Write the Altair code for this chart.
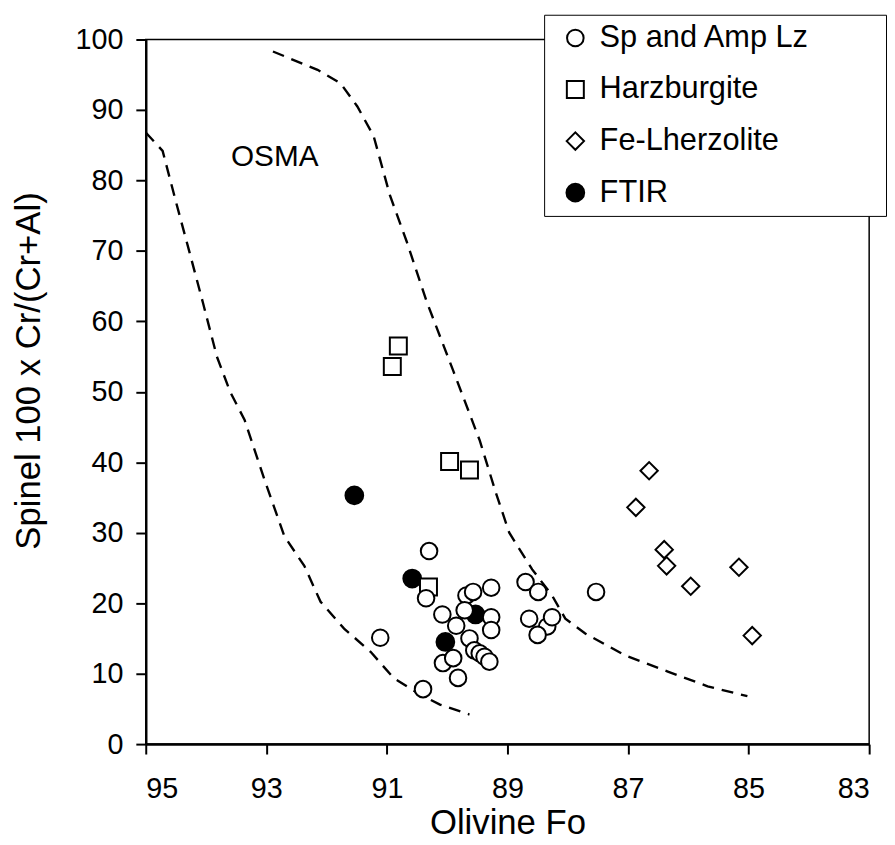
import altair as alt
import pandas as pd

# ---------------- data ----------------
series_order = ["Sp and Amp Lz", "Harzburgite", "Fe-Lherzolite", "FTIR"]

sp_x = [90.30, 90.35, 91.11, 90.40, 89.82, 90.07, 90.08, 89.68, 89.57, 89.27,
        89.71, 89.85, 89.27, 89.27, 89.63, 89.55, 89.46, 89.38, 89.30, 89.90,
        88.70, 88.49, 87.53, 88.64, 88.34, 88.26, 88.50]
sp_y = [27.4, 20.7, 15.1, 7.8, 9.4, 11.5, 18.4, 21.1, 21.6, 22.2,
        19.0, 16.8, 18.0, 16.2, 15.0, 13.3, 12.9, 12.4, 11.7, 12.2,
        23.0, 21.6, 21.6, 17.8, 16.7, 18.0, 15.5]

hz_x = [90.81, 90.91, 89.96, 89.63, 90.31]
hz_y = [56.5, 53.6, 40.1, 38.9, 22.3]

fe_x = [86.65, 86.87, 86.40, 86.36, 85.96, 85.16, 84.94]
fe_y = [38.8, 33.6, 27.6, 25.3, 22.4, 25.1, 15.4]

ft_x = [91.54, 90.58, 89.53, 90.03]
ft_y = [35.3, 23.5, 18.4, 14.5]

left_x = [95.0, 94.72, 94.50, 94.28, 94.05, 93.82, 93.60, 93.36, 93.03, 92.70,
          92.37, 92.10, 91.71, 91.27, 90.89, 90.50, 90.12, 89.63]
left_y = [86.8, 84.2, 77.0, 70.0, 62.6, 55.0, 50.0, 46.0, 37.5, 29.5,
          25.3, 20.2, 16.4, 13.1, 9.4, 7.3, 5.6, 4.2]

right_x = [92.89, 92.15, 91.77, 91.49, 91.22, 90.95, 90.67, 90.34, 89.90, 89.46,
           89.19, 88.97, 88.59, 88.26, 88.04, 87.71, 87.05, 86.34, 85.68, 85.02]
right_y = [98.3, 95.7, 93.8, 90.5, 86.3, 77.9, 71.3, 62.8, 53.0, 43.1,
           35.6, 30.0, 24.8, 21.1, 17.8, 15.7, 12.6, 10.3, 8.2, 6.8]

osma_x = [92.86]
osma_y = [83.3]
osma_text = ["OSMA"]

x_ticks = [95, 93, 91, 89, 87, 85, 83]
y_ticks = [0, 10, 20, 30, 40, 50, 60, 70, 80, 90, 100]

# ---------------- tables ----------------
def frame(xs, ys, name):
    return pd.DataFrame({"x": xs, "y": ys, "series": name})

# drawing order: FTIR underneath, then squares, circles, diamonds
pts = pd.concat([
    frame(ft_x, ft_y, "FTIR"),
    frame(hz_x, hz_y, "Harzburgite"),
    frame(sp_x, sp_y, "Sp and Amp Lz"),
    frame(fe_x, fe_y, "Fe-Lherzolite"),
], ignore_index=True)

curves = pd.concat([
    pd.DataFrame({"x": left_x, "y": left_y, "curve": "left", "i": range(len(left_x))}),
    pd.DataFrame({"x": right_x, "y": right_y, "curve": "right", "i": range(len(right_x))}),
], ignore_index=True)

labels = pd.DataFrame({"x": osma_x, "y": osma_y, "t": osma_text})

FONT = "Liberation Sans"
# blank room at the right of the legend box, as in the reference
# (no-break spaces closed by a zero-width space so they are not trimmed)
PAD = "\u00a0" * 8 + "\u200b"

xscale = alt.Scale(domain=[83, 95], reverse=True, nice=False, zero=False)
yscale = alt.Scale(domain=[0, 100], nice=False, zero=False)

xaxis = alt.Axis(values=x_ticks, format="d", title="Olivine Fo", grid=False,
                 labelPadding=21, titleY=79, titleBaseline="middle")
yaxis = alt.Axis(values=y_ticks, format="d", title="Spinel 100 x Cr/(Cr+Al)",
                 grid=False, labelPadding=13, titleX=-118, titleY=334,
                 titleAngle=270, titleAlign="center", titleBaseline="middle")

legend = alt.Legend(
    title=None, orient="none", legendX=402, legendY=-25,
    fillColor="white", strokeColor="black", padding=8,
    labelFont=FONT, labelFontSize=31, labelColor="black", labelLimit=500,
    labelExpr="datum.label + '" + PAD + "'",
    symbolStrokeWidth=2, symbolOpacity=1, symbolOffset=8, labelOffset=9,
    rowPadding=20,
)

lines = alt.Chart(curves).mark_line(
    strokeDash=[12, 8], strokeWidth=2.4, color="black"
).encode(
    x=alt.X("x:Q", scale=xscale, axis=xaxis),
    y=alt.Y("y:Q", scale=yscale, axis=yaxis),
    detail="curve:N",
    order="i:Q",
)

points = alt.Chart(pts).mark_point(
    filled=True, strokeWidth=2, opacity=1
).encode(
    x=alt.X("x:Q", scale=xscale),
    y=alt.Y("y:Q", scale=yscale),
    shape=alt.Shape("series:N", scale=alt.Scale(
        domain=series_order, range=["circle", "square", "diamond", "circle"]),
        legend=legend),
    fill=alt.Fill("series:N", scale=alt.Scale(
        domain=series_order, range=["white", "white", "white", "black"]),
        legend=legend),
    stroke=alt.Stroke("series:N", scale=alt.Scale(
        domain=series_order, range=["black", "black", "black", "black"]),
        legend=legend),
    size=alt.Size("series:N", scale=alt.Scale(
        domain=series_order, range=[280, 320, 240, 440]), legend=legend),
)

text = alt.Chart(labels).mark_text(
    font=FONT, fontSize=30, color="black"
).encode(
    x=alt.X("x:Q", scale=xscale),
    y=alt.Y("y:Q", scale=yscale),
    text="t:N",
)

chart = alt.layer(lines, points, text).properties(
    width=730, height=711,
    autosize=alt.AutoSizeParams(type="none"),
    padding={"left": 139, "top": 28, "right": 18, "bottom": 98},
).configure_view(
    stroke="black", strokeWidth=1.5
).configure_axis(
    labelFont=FONT, titleFont=FONT, labelFontSize=29, titleFontSize=35,
    labelColor="black", titleColor="black", titleFontWeight="normal",
    domainColor="black", domainWidth=2.5, tickColor="black", tickWidth=2,
    tickSize=10,
)

chart.save("out.html", embed_options={"renderer": "svg", "actions": False})
